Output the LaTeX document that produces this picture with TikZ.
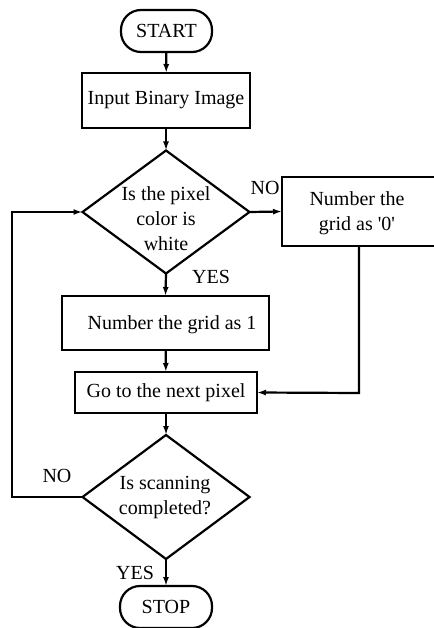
\documentclass[tikz,border=0pt]{standalone}
\usepackage{fontspec}
\setmainfont{Liberation Serif}
\usetikzlibrary{shapes.geometric,arrows.meta}
\begin{document}
\begin{tikzpicture}[x=1pt,y=-1pt,
  every node/.style={font=\fontsize{20}{25}\selectfont},
  box/.style={draw,line width=2.2pt,inner sep=0pt,outer sep=0pt},
  term/.style={box,rounded corners=20pt},
  dia/.style={draw,line width=2.2pt,diamond,inner sep=0pt,outer sep=0pt},
  txt/.style={align=center,inner sep=0pt},
  conn/.style={line width=2.2pt,-{Latex[length=9pt,width=6pt]}},
  plain/.style={line width=2.2pt}]
\useasboundingbox (0,0) rectangle (433,628);
\node[term,minimum width=91pt,minimum height=42pt] (start) at (166.5,31) {START};
\node[box,minimum width=168pt,minimum height=55pt] (input) at (166,100.5) {Input Binary Image};
\node[dia,minimum width=167pt,minimum height=123pt] (d1) at (166,212) {};
\node[txt] (d1t) at (166,219) {Is the pixel\\color is\\white};
\node[box,minimum width=154pt,minimum height=69pt] (b0) at (359,211.5) {};
\node[txt] (b0t) at (357,213.5) {Number the\\grid as \textquotesingle0\textquotesingle};
\node[box,minimum width=207pt,minimum height=54pt] (b1) at (165.5,323) {};
\node[txt] (b1t) at (172,325) {Number the grid as 1};
\node[box,minimum width=182pt,minimum height=41pt] (go) at (166,392.5) {Go to the next pixel};
\node[dia,minimum width=167pt,minimum height=124pt] (d2) at (166,497) {};
\node[txt] (d2t) at (165,498) {Is scanning\\completed?};
\node[term,minimum width=92pt,minimum height=42pt] (stop) at (166,607) {STOP};
\coordinate (bl) at (12,497);
\coordinate (tl) at (12,212);
\coordinate (rc) at (359,393);
\node (no1) at (265,188) {NO};
\node (yes1) at (211,277) {YES};
\node (no2) at (57,476) {NO};
\node (yes2) at (135,573) {YES};
\draw[conn] (start) -- (input);
\draw[conn] (input) -- (d1.north);
\draw[conn] (d1.east) -- (b0.west);
\draw[conn] (d1.south) -- (b1.north);
\draw[conn] (b1) -- (go);
\draw[conn] (b0.south) -- (rc) -- (go.east);
\draw[conn] (go) -- (d2.north);
\draw[conn] (d2.west) -- (bl) -- (tl) -- (d1.west);
\draw[conn] (d2.south) -- (stop.north);
\end{tikzpicture}
\end{document}
